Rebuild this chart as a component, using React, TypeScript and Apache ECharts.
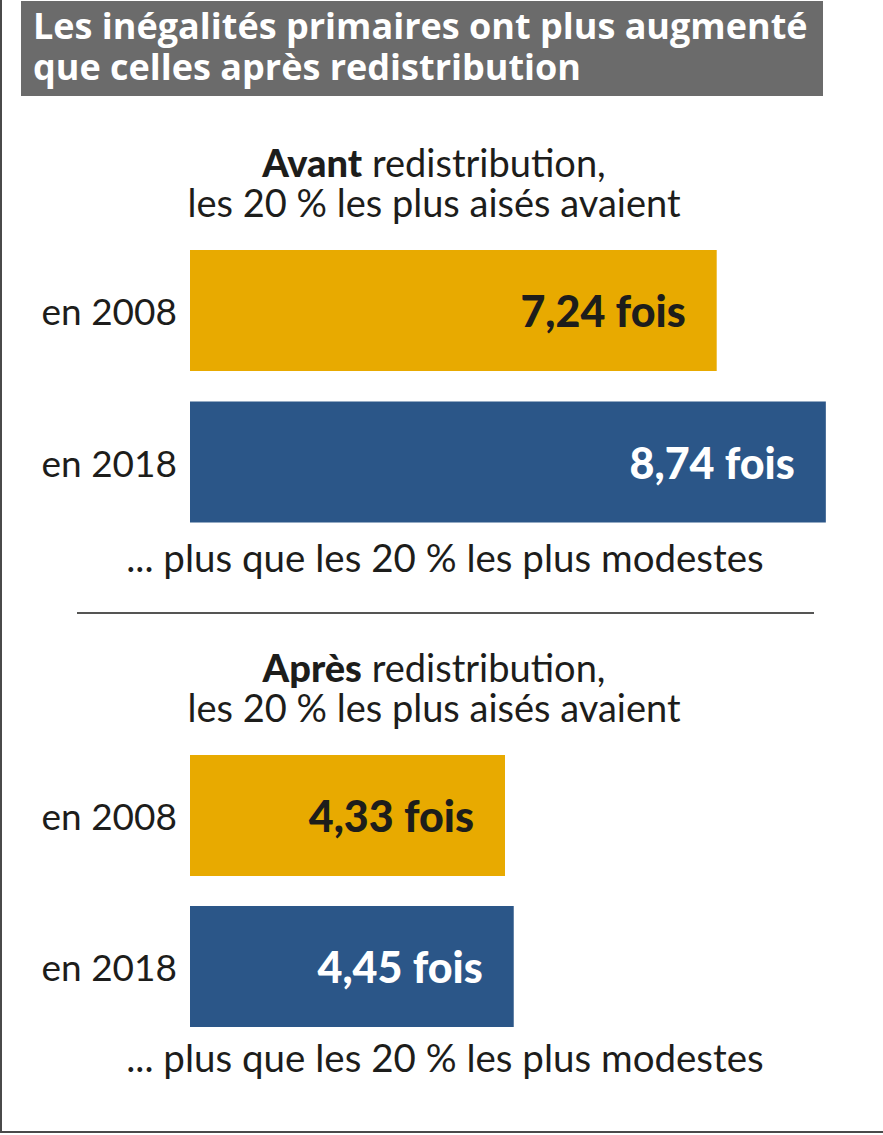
import React, { useEffect, useRef } from "react";
import * as echarts from "echarts";

const titleLines = ["Les inégalités primaires ont plus augmenté", "que celles après redistribution"];
const categories = ["en 2008", "en 2018"];
const avantValues = [7.24, 8.74];
const apresValues = [4.33, 4.45];
const barColors = ["#E8AA00", "#2B5688"];
const labelColors = ["#1d1d1b", "#ffffff"];
const headingBold = ["Avant", "Après"];
const headingRest = " redistribution,";
const headingLine2 = "les 20 % les plus aisés avaient";
const footerText = "... plus que les 20 % les plus modestes";

const FONT = "Lato, 'Noto Sans', sans-serif";
const TITLE_FONT = "'Open Sans', Lato, sans-serif";

export default function App() {
  const ref = useRef<HTMLDivElement>(null);
  useEffect(() => {
    document.body.style.margin = "0";
    if (!ref.current) return;
    const chart = echarts.init(ref.current, null, { renderer: "svg" });
    const fmt = (p: any) => String(p.value).replace(".", ",") + " fois";
    const mkData = (vals: number[]) =>
      vals.map((v, i) => ({
        value: v,
        itemStyle: { color: barColors[i] },
        label: { color: labelColors[i] },
      }));
    const grids = [
      { left: 190, top: 234.75, width: 654.75, height: 303 },
      { left: 190, top: 740, width: 654.75, height: 302 },
    ];
    const heading = (i: number, y: number) => ({
      type: "text",
      x: 434,
      y,
      style: {
        text: `{b|${headingBold[i]}}{r|${headingRest}}\n{r|${headingLine2}}`,
        align: "center",
        verticalAlign: "middle",
        rich: {
          b: { fontFamily: FONT, fontWeight: 900, fontSize: 38, lineHeight: 40, fill: "#1d1d1b" },
          r: { fontFamily: FONT, fontWeight: 400, fontSize: 38, lineHeight: 40, fill: "#1d1d1b" },
        },
      },
    });
    const footer = (y: number) => ({
      type: "text",
      x: 445,
      y,
      style: {
        text: footerText,
        align: "center",
        verticalAlign: "middle",
        fontFamily: FONT,
        fontSize: 38.5,
        fill: "#1d1d1b",
      },
    });
    const option: any = {
      animation: false,
      backgroundColor: "#ffffff",
      grid: grids,
      xAxis: grids.map((_, i) => ({
        type: "value",
        gridIndex: i,
        min: 0,
        max: 9,
        show: false,
      })),
      yAxis: grids.map((_, i) => ({
        type: "category",
        gridIndex: i,
        data: categories,
        inverse: true,
        axisLine: { show: false },
        axisTick: { show: false },
        axisLabel: {
          margin: 13,
          fontFamily: FONT,
          fontSize: 37,
          color: "#1d1d1b",
        },
      })),
      series: [avantValues, apresValues].map((vals, i) => ({
        type: "bar",
        xAxisIndex: i,
        yAxisIndex: i,
        barWidth: 121,
        data: mkData(vals),
        label: {
          show: true,
          position: "insideRight",
          distance: 31,
          formatter: fmt,
          fontFamily: FONT,
          fontWeight: 900,
          fontSize: 43,
        },
      })),
      graphic: [
        { type: "line", shape: { x1: 1, y1: 0, x2: 1, y2: 1132 }, style: { stroke: "#4a4a4a", lineWidth: 2 } },
        { type: "line", shape: { x1: 0, y1: 1132, x2: 883, y2: 1132 }, style: { stroke: "#4a4a4a", lineWidth: 2 } },
        { type: "rect", shape: { x: 21, y: 1, width: 802, height: 95 }, style: { fill: "#6b6b6b" } },
        {
          type: "text",
          x: 33,
          y: 46,
          style: {
            text: titleLines.join("\n"),
            verticalAlign: "middle",
            fontFamily: TITLE_FONT,
            fontWeight: 700,
            fontSize: 36,
            lineHeight: 41,
            fill: "#ffffff",
          },
        },
        heading(0, 182),
        footer(557),
        { type: "line", shape: { x1: 77, y1: 613, x2: 814, y2: 613 }, style: { stroke: "#1d1d1b", lineWidth: 1.5 } },
        heading(1, 687),
        footer(1057),
      ],
    };
    chart.setOption(option);
    return () => chart.dispose();
  }, []);
  return <div ref={ref} style={{ width: 883, height: 1135 }} />;
}
